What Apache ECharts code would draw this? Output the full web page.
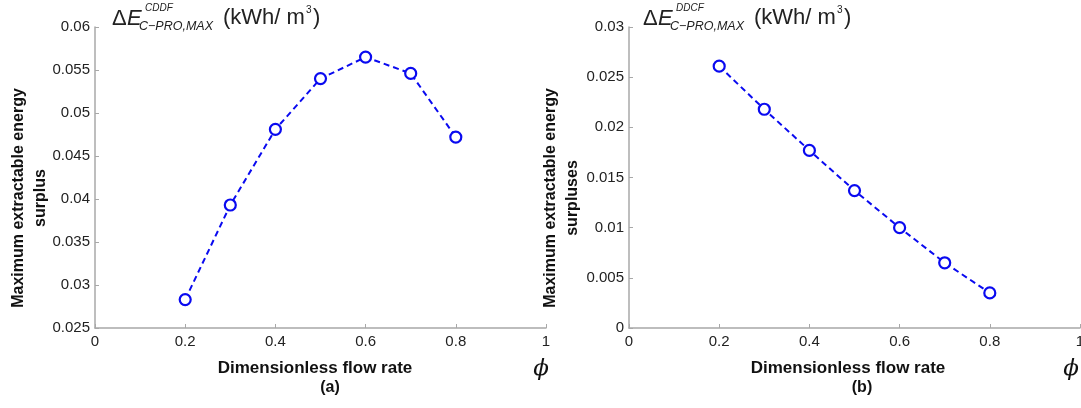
<!DOCTYPE html>
<html><head><meta charset="utf-8">
<script src="https://cdn.jsdelivr.net/npm/echarts@6/dist/echarts.min.js"></script>
<style>html,body{margin:0;padding:0;background:#fff}#c{width:1081px;height:408px}</style>
</head><body><div id="c"></div>
<script>
const flowRate = [0.2, 0.3, 0.4, 0.5, 0.6, 0.7, 0.8];
const surplusCDDF = [0.0283, 0.0393, 0.0481, 0.0540, 0.0565, 0.0546, 0.0472];
const surplusDDCF = [0.0261, 0.0218, 0.0177, 0.0137, 0.0100, 0.0065, 0.0035];
const xTicks = [0, 0.2, 0.4, 0.6, 0.8, 1];
const yLabelA = 'Maximum extractable energy\nsurplus';
const yLabelB = 'Maximum extractable energy\nsurpluses';
const xLabel = 'Dimensionless flow rate';
const panelA = '(a)', panelB = '(b)';

const chart = echarts.init(document.getElementById('c'), null, {renderer: 'canvas'});
const axisColor = '#a8a8a8';
const ff = 'Liberation Sans, Arial, sans-serif';
const labelStyle = {color: '#222', fontSize: 15, fontFamily: ff};
function xAxis(gi) {
  return {type: 'value', gridIndex: gi, min: 0, max: 1, interval: 0.2,
    axisLine: {show: true, onZero: false, lineStyle: {color: axisColor, width: 1.5}},
    axisTick: {show: true, inside: true, length: 4, lineStyle: {color: axisColor}},
    splitLine: {show: false},
    axisLabel: Object.assign({margin: 6, formatter: v => String(+v.toFixed(1))}, labelStyle)};
}
function yAxis(gi, min, max) {
  return {type: 'value', gridIndex: gi, min: min, max: max, interval: 0.005,
    axisLine: {show: true, onZero: false, lineStyle: {color: axisColor, width: 1.5}},
    axisTick: {show: true, inside: true, length: 4, lineStyle: {color: axisColor}},
    splitLine: {show: false},
    axisLabel: Object.assign({margin: 5, formatter: v => String(+v.toFixed(3))}, labelStyle)};
}
function series(gi, vals) {
  return {type: 'line', xAxisIndex: gi, yAxisIndex: gi,
    data: flowRate.map((x, i) => [x, vals[i]]),
    symbol: 'circle', symbolSize: 11, showSymbol: true,
    itemStyle: {color: '#fff', borderColor: '#0a0af0', borderWidth: 2.2},
    lineStyle: {color: '#0a0af0', width: 2, type: [6, 4]},
    animation: false};
}
function title(x0, sup) {
  return [
    {type: 'text', left: x0, top: 8, style: {text: 'Δ', font: '22px ' + ff, fill: '#222'}},
    {type: 'text', left: x0 + 15, top: 8, style: {text: 'E', font: 'italic 22px ' + ff, fill: '#222'}},
    {type: 'text', left: x0 + 33, top: 3, style: {text: sup, font: 'italic 10px ' + ff, fill: '#222'}},
    {type: 'text', left: x0 + 27, top: 20, style: {text: 'C−PRO,MAX', font: 'italic 12.5px ' + ff, fill: '#222'}},
    {type: 'text', left: x0 + 111, top: 7, style: {text: '(kWh/ m', font: '22px ' + ff, fill: '#222'}},
    {type: 'text', left: x0 + 194, top: 5, style: {text: '3', font: '10px ' + ff, fill: '#222'}},
    {type: 'text', left: x0 + 201, top: 7, style: {text: ')', font: '22px ' + ff, fill: '#222'}}
  ];
}
function yName(cx, cy, txt) {
  return {type: 'text', x: cx, y: cy, rotation: Math.PI / 2,
    style: {text: txt, font: 'bold 16px ' + ff, lineHeight: 22, fill: '#111', align: 'center', verticalAlign: 'middle'}};
}
function bottom(cx, panel, pcx, phiX) {
  return [
    {type: 'text', x: cx, y: 360, style: {text: xLabel, font: 'bold 17px ' + ff, fill: '#111', align: 'center'}},
    {type: 'text', x: pcx, y: 380, style: {text: panel, font: 'bold 16px ' + ff, fill: '#111', align: 'center'}},
    {type: 'text', x: phiX, y: 358, style: {text: 'ϕ', font: 'italic 23px DejaVu Serif, serif', fill: '#111', align: 'center'}}
  ];
}
chart.setOption({
  animation: false,
  grid: [
    {left: 95, top: 27, width: 451, height: 301, containLabel: false, outerBoundsMode: 'none'},
    {left: 629, top: 27, width: 451, height: 301, containLabel: false, outerBoundsMode: 'none'}
  ],
  xAxis: [xAxis(0), xAxis(1)],
  yAxis: [yAxis(0, 0.025, 0.06), yAxis(1, 0, 0.03)],
  series: [series(0, surplusCDDF), series(1, surplusDDCF)],
  graphic: [].concat(title(112, 'CDDF'), title(643, 'DDCF'),
    [yName(30, 198, yLabelA), yName(562, 198, yLabelB)],
    bottom(315, panelA, 330, 541), bottom(848, panelB, 862, 1071))
});
</script></body></html>
